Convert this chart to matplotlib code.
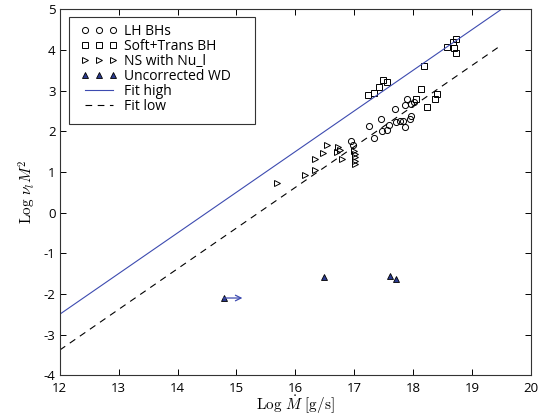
import numpy as np
import matplotlib
matplotlib.use('Agg')
import matplotlib.pyplot as plt
from matplotlib.patches import Rectangle

plt.rcParams['font.family'] = ['Open Sans', 'DejaVu Sans']
plt.rcParams['mathtext.fontset'] = 'cm'
plt.rcParams['axes.unicode_minus'] = False

# LH BHs (circles)
lh_x = [16.94, 16.98, 17.25, 17.34, 17.46, 17.47, 17.56, 17.59, 17.69, 17.70,
        17.77, 17.82, 17.86, 17.86, 17.89, 17.94, 17.96, 17.96, 18.02]
lh_y = [1.77, 1.66, 2.12, 1.84, 2.30, 2.00, 2.04, 2.16, 2.55, 2.22,
        2.24, 2.26, 2.10, 2.65, 2.78, 2.31, 2.37, 2.67, 2.73]

# Soft+Trans BH (squares)
st_x = [17.23, 17.34, 17.42, 17.49, 17.56, 18.19, 18.58, 18.68, 18.72, 18.69,
        18.73, 18.13, 18.05, 18.24, 18.37, 18.41]
st_y = [2.90, 2.94, 3.09, 3.25, 3.22, 3.61, 4.08, 4.20, 4.26, 4.04,
        3.93, 3.04, 2.79, 2.60, 2.80, 2.91]

# NS with Nu_l (right triangles)
ns_x = [15.68, 16.16, 16.33, 16.33, 16.47, 16.54, 16.70, 16.73, 16.76, 16.79,
        17.01, 17.01, 17.02, 17.01, 17.00]
ns_y = [0.72, 0.93, 1.04, 1.31, 1.46, 1.67, 1.48, 1.62, 1.55, 1.31,
        1.45, 1.37, 1.28, 1.20, 1.52]

# Uncorrected WD (filled triangles)
wd_x = [14.78, 16.48, 17.60, 17.70]
wd_y = [-2.10, -1.59, -1.55, -1.63]
wd_limit_end = 15.10

# fits
fit_x = np.array([12.0, 19.5])
fit_high = fit_x - 14.5
fit_low = fit_x - 15.38

blue = '#3d4bb0'
navy = '#2b3a8f'

fig = plt.figure(figsize=(5.43, 4.17), dpi=100)
ax = fig.add_axes([0.110, 0.100, 0.868, 0.878])

ms = 4.4
ax.plot(lh_x, lh_y, 'o', mfc='none', mec='black', ms=ms, mew=0.7, label='LH BHs')
ax.plot(st_x, st_y, 's', mfc='none', mec='black', ms=ms + 0.4, mew=0.7, label='Soft+Trans BH')
ax.plot(ns_x, ns_y, '>', mfc='none', mec='black', ms=ms, mew=0.7, label='NS with Nu_l')
ax.plot(wd_x, wd_y, '^', mfc=navy, mec='black', ms=ms + 0.4, mew=0.6, label='Uncorrected WD')
ax.annotate('', xy=(wd_limit_end, wd_y[0]), xytext=(wd_x[0], wd_y[0]),
            arrowprops=dict(arrowstyle='->', color=blue, lw=0.9, shrinkA=0, shrinkB=0))
ax.plot(fit_x, fit_high, '-', color=blue, lw=0.8, label='Fit high')
ax.plot(fit_x, fit_low, '--', color='black', lw=0.8, dashes=(6, 5), label='Fit low')

ax.set_xlim(12, 20)
ax.set_ylim(-4, 5)
ax.set_xticks(range(12, 21))
ax.set_yticks(range(-4, 6))
ax.tick_params(direction='in', top=True, right=True, labelsize=9.5, length=4, width=0.7)
ax.tick_params(axis='x', pad=4.5)
ax.tick_params(axis='y', pad=3)
for s in ax.spines.values():
    s.set_linewidth(0.8)
    s.set_color('#333333')

ax.set_xlabel(r'$\mathrm{Log}\ \dot{M}\ [\mathrm{g/s}]$', fontsize=11, labelpad=-1)
ax.set_ylabel(r'$\mathrm{Log}\ \nu_l M^2$', fontsize=11, labelpad=4)

# legend frame drawn separately (MATLAB-style wide box)
ax.add_patch(Rectangle((0.019, 0.686), 0.395, 0.292, transform=ax.transAxes,
                       facecolor='white', edgecolor='#333333', lw=0.8, zorder=4))
leg = ax.legend(loc='upper left', numpoints=3, fontsize=10, frameon=False,
                handlelength=2.6, handletextpad=0.45, labelspacing=0.0,
                borderpad=0.5, borderaxespad=0, bbox_to_anchor=(0.031, 0.978))
leg.set_zorder(5)

fig.savefig('out.png', dpi=100)
